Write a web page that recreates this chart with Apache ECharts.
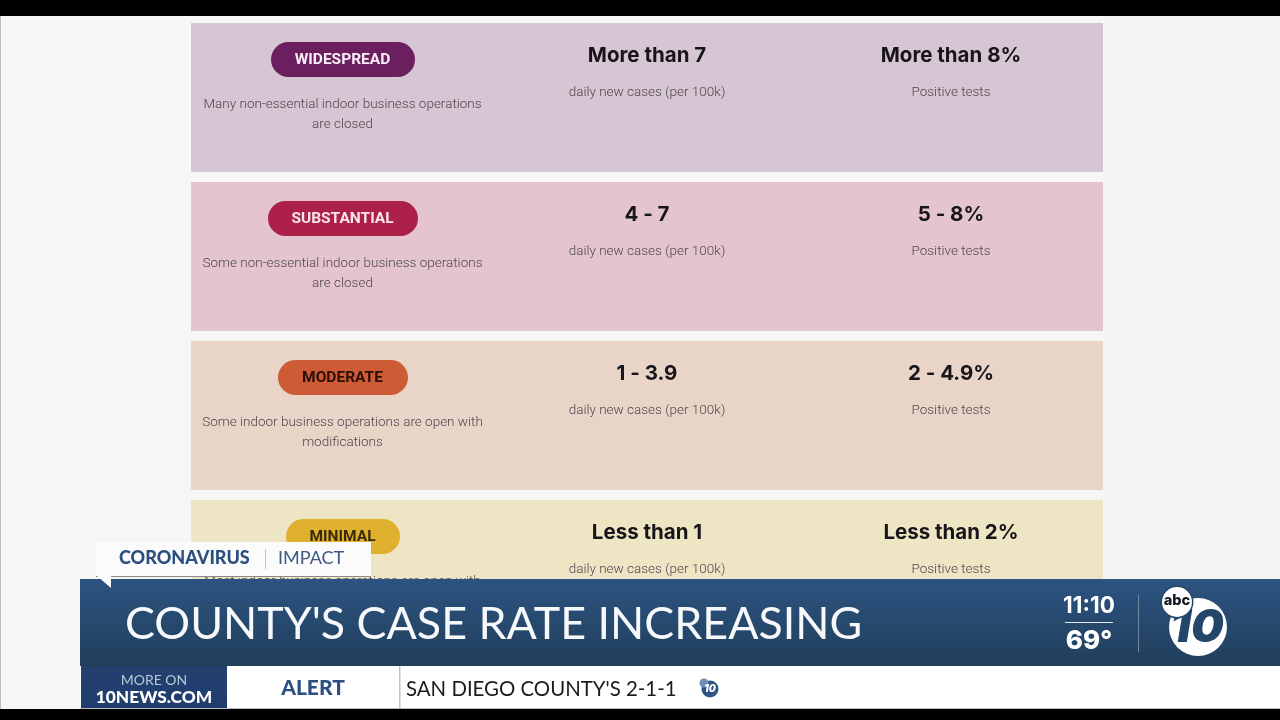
<!DOCTYPE html>
<html>
<head>
<meta charset="utf-8" />
<title>County's case rate increasing</title>
<script src="https://cdn.jsdelivr.net/npm/echarts@6/dist/echarts.min.js"></script>
<style>
html, body { margin: 0; padding: 0; background: #000; }
#main { width: 1280px; height: 720px; }
</style>
</head>
<body>
<div id="main"></div>
<script>
var tiers = ['WIDESPREAD', 'SUBSTANTIAL', 'MODERATE', 'MINIMAL'];
var descLine1 = [
	'Many non-essential indoor business operations',
	'Some non-essential indoor business operations',
	'Some indoor business operations are open with',
	'Most indoor business operations are open with'
];
var descLine2 = ['are closed', 'are closed', 'modifications', ''];
var caseRates = ['More than 7', '4 - 7', '1 - 3.9', 'Less than 1'];
var caseUnit = 'daily new cases (per 100k)';
var testRates = ['More than 8%', '5 - 8%', '2 - 4.9%', 'Less than 2%'];
var testUnit = 'Positive tests';
var tag = ['CORONAVIRUS', 'IMPACT'];
var headline = "COUNTY'S CASE RATE INCREASING";
var clock = ['11:10', '69°'];
var moreOn = ['MORE ON', '10NEWS.COM'];
var tickerLabel = 'ALERT';
var tickerText = "SAN DIEGO COUNTY'S 2-1-1";

// styles per row
var rowColors = ['#d6c5d2', '#e4c5cf', '#e9d5c8', '#eee5c4'];
var pillColors = ['#6c1f5f', '#ac2049', '#cd5b35', '#e0b02f'];
var pillText = ['#fbeef8', '#fbe6ea', '#2a1008', '#3a2a05'];
var pillWidths = [144, 150, 130, 114];

var BODY = 'Roboto, sans-serif';
var HEAD = 'Inter, sans-serif';
var TV = 'Lato, "Open Sans", sans-serif';

var chart = echarts.init(document.getElementById('main'));
var els = [];

function rect(x, y, w, h, fill, z, r) {
	els.push({ type: 'rect', z: z || 1, shape: { x: x, y: y, width: w, height: h, r: r || 0 }, style: { fill: fill } });
}
function label(str, x, y, size, color, font, weight, align, z, italic) {
	els.push({
		type: 'text', z: z || 2, x: x, y: y,
		style: {
			text: str, fill: color, fontFamily: font, fontSize: size, fontWeight: weight || 400,
			fontStyle: italic ? 'italic' : 'normal',
			align: align || 'center', verticalAlign: 'middle'
		}
	});
}
function circle(cx, cy, r, fill, z) {
	els.push({ type: 'circle', z: z, shape: { cx: cx, cy: cy, r: r }, style: { fill: fill } });
}
function vgrad(a, b) {
	return new echarts.graphic.LinearGradient(0, 0, 0, 1, [{ offset: 0, color: a }, { offset: 1, color: b }]);
}

// page
rect(0, 16, 1280, 693, '#f6f6f6', 0);
rect(0, 16, 1, 693, '#bdbdbd', 0);
rect(1104, 16, 176, 563, '#f3f3f3', 0);

// tier rows
var colX = [342.5, 647, 951];
tiers.forEach(function(t, i) {
	var top = 23 + i * 159;
	rect(191, top, 912, 149, rowColors[i], 1);
	rect(343 - pillWidths[i] / 2, top + 19, pillWidths[i], 35, pillColors[i], 2, 17.5);
	label(t, colX[0], top + 37.5, 15.5, pillText[i], BODY, 700);
	label(descLine1[i], colX[0], top + 81.5, 13.5, '#4f464e', BODY, 300);
	if (descLine2[i]) label(descLine2[i], colX[0], top + 101.5, 13.5, '#4f464e', BODY, 300);
	label(caseRates[i], colX[1], top + 33, 20.5, '#17141a', HEAD, 700);
	label(caseUnit, colX[1], top + 69.5, 13.5, '#4f464e', BODY, 300);
	label(testRates[i], colX[2], top + 33, 20.5, '#17141a', HEAD, 700);
	label(testUnit, colX[2], top + 69.5, 13.5, '#4f464e', BODY, 300);
});

// lower third
rect(96, 542, 275, 34, '#fbfbfc', 10);
rect(96, 576, 275, 1, '#8a8a8a', 10);
els.push({ type: 'polygon', z: 11, shape: { points: [[97, 576], [111, 576], [111, 588]] }, style: { fill: '#fbfbfc' } });
label(tag[0], 119, 558, 18, '#2b4f80', TV, 900, 'left', 12);
rect(265, 549, 1, 20, '#c5c9ce', 12);
label(tag[1], 278, 558, 18, '#3c5a80', TV, 400, 'left', 12);

rect(80, 579, 1200, 87, vgrad('#2c5381', '#213f5b'), 10);
label(headline, 125, 625, 44.8, '#f6f8fa', TV, 400, 'left', 12);

// clock + logo
label(clock[0], 1089, 606, 22.5, '#ffffff', HEAD, 700, 'center', 12);
rect(1065, 622, 48, 1, '#e8edf2', 12);
label(clock[1], 1089, 641, 26, '#ffffff', HEAD, 800, 'center', 12);
rect(1138, 595, 1, 57, '#6f879f', 12);
circle(1198, 627, 29, '#ffffff', 12);
label('10', 1197, 628, 46, '#24466a', HEAD, 900, 'center', 13, true);
circle(1177, 602, 16.5, '#24466a', 14);
circle(1177, 602, 15, '#ffffff', 14);
label('abc', 1177, 601, 14.5, '#101820', HEAD, 800, 'center', 15);

// ticker
rect(80, 666, 1200, 43, '#ffffff', 10);
rect(80, 708, 1200, 1, '#bbbbbb', 11);
rect(81, 666, 146, 42, vgrad('#23406f', '#1f3d6e'), 11);
label(moreOn[0], 154, 680, 14, '#b9c7d9', TV, 400, 'center', 12);
label(moreOn[1], 154, 697, 17.3, '#ffffff', TV, 900, 'center', 12);
label(tickerLabel, 313, 688.5, 21, '#2b4f80', TV, 900, 'center', 12);
rect(399, 666, 1.5, 42, '#c4c4c4', 12);
label(tickerText, 406, 689, 20.4, '#1c1c1c', TV, 400, 'left', 12);
circle(710, 689, 8.5, '#2f5488', 12);
circle(704, 683, 4.5, '#6f8fb8', 13);
label('10', 710, 689, 10, '#ffffff', HEAD, 900, 'center', 13, true);

chart.setOption({
	backgroundColor: '#000000',
	animation: false,
	graphic: { elements: els }
});
</script>
</body>
</html>
